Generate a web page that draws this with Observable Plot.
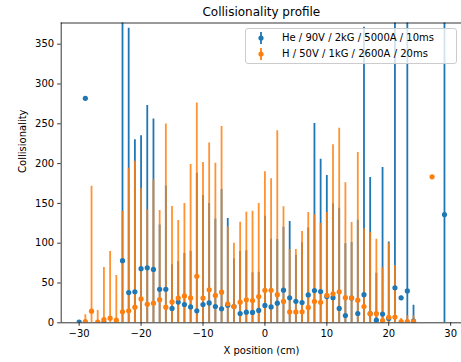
<!DOCTYPE html>
<html><head><meta charset="utf-8">
<script src="https://cdn.jsdelivr.net/npm/d3@7"></script>
<script src="https://cdn.jsdelivr.net/npm/@observablehq/plot@0.6"></script>
<style>
body{margin:0;background:#fff;}
#wrap{position:relative;width:461px;height:362px;overflow:hidden;font-family:"DejaVu Sans",sans-serif;}
#legend{position:absolute;left:245px;top:28px;width:212px;height:36px;border:1px solid #cccccc;border-radius:3px;background:rgba(255,255,255,0.8);box-sizing:border-box;font-size:10px;color:#000;}
.row{position:absolute;left:0;height:14px;display:flex;align-items:center;}
.row svg{margin-left:10px;}
.row span{position:absolute;left:36px;white-space:nowrap;top:0px;line-height:14px;}
</style>
</head><body>
<div id="wrap">
<div id="chart"></div>
<div id="legend">
  <div class="row" style="top:2px"><svg width="12" height="14"><line x1="5" x2="5" y1="1" y2="13" stroke="#1f77b4" stroke-width="1.8"/><circle cx="5" cy="7" r="2.6" fill="#1f77b4"/></svg><span id="l1"></span></div>
  <div class="row" style="top:18px"><svg width="12" height="14"><line x1="5" x2="5" y1="1" y2="13" stroke="#ff7f0e" stroke-width="1.8"/><circle cx="5" cy="7" r="2.6" fill="#ff7f0e"/></svg><span id="l2"></span></div>
</div>
</div>
<script>
const titleText = "Collisionality profile";
const xLabel = "X position (cm)";
const yLabel = "Collisionality";
const seriesNames = ["He / 90V / 2kG / 5000A / 10ms", "H / 50V / 1kG / 2600A / 20ms"];
const xTicks = [-30, -20, -10, 0, 10, 20, 30];
const yTicks = [0, 50, 100, 150, 200, 250, 300, 350];

// He series
const heX = [-30, -29, -26, -23, -22, -21, -20, -19, -18, -17, -16, -15, -14, -13, -12, -11, -10, -9, -8, -7, -6, -5, -4, -3, -2, -1, 0, 1, 2, 3, 4, 5, 6, 7, 8, 9, 10, 11, 12, 13, 14, 15, 16, 17, 18, 19, 20, 21, 22, 23, 24, 29];
const heY = [1, 282, 0.5, 78, 38, 39, 68, 69, 67, 42, 42, 18, 26, 23, 20, 15, 23, 25, 20.5, 17.6, 22, 20.5, 11.7, 13.4, 13, 15.5, 21.8, 20, 24.7, 41, 31.4, 27, 25.5, 35, 40.5, 39.3, 33, 31.6, 18, 9.2, 31, 11.7, 35.3, 11.5, 3.3, 11, 5.5, 44, 31.4, 40, 2, 136];
const heErr = [0, 0, 0, 350, 332, 191, 167, 204, 189, 81, 130, 55, 51, 64, 70, 173, 137, 125, 110, 150, 109, 60, 78, 77, 50, 48, 112, 85, 80, 79, 96, 58, 75, 84, 210, 166, 152, 118, 126, 90, 70, 117, 336, 171, 59, 184, 96, 400, 2, 400, 20, 400];

// H series
const hX = [-29, -28, -27, -26, -25, -24, -23, -22, -21, -20, -19, -18, -17, -16, -15, -14, -13, -12, -11, -10, -9, -8, -7, -6, -5, -4, -3, -2, -1, 0, 1, 2, 3, 4, 5, 6, 7, 8, 9, 10, 11, 12, 13, 14, 15, 16, 17, 18, 19, 20, 21, 22, 23, 24, 27];
const hY = [1.5, 14.6, 1, 4.1, 5.8, 3.3, 13.8, 15, 19.6, 30, 23.4, 24.6, 29, 19.6, 26.2, 31, 33.7, 31.3, 58.4, 31, 41.4, 34.4, 38.5, 23.8, 20.5, 25.9, 28.8, 28, 33, 40.8, 40.8, 35.3, 26.8, 13.6, 13.6, 13.8, 19.3, 26.8, 25.7, 34.5, 36.4, 39, 31.5, 31.3, 28.4, 20.5, 11.5, 11.5, 2.7, 7, 7.3, 1.5, 1.5, 1.5, 183.4];
const hErr = [8.5, 157, 14.5, 65.4, 83.7, 56.2, 126, 179, 183.4, 139, 118.6, 155, 112, 230, 120, 97.5, 116.3, 167.7, 217.6, 170.5, 184.6, 166, 208, 97, 79.5, 100.5, 110, 112, 117, 149, 140, 206, 119, 78.4, 78.4, 101, 119.3, 109, 99, 104, 187.4, 205.5, 144.3, 94.7, 185.6, 97.5, 102, 93.5, 66.3, 93, 64.7, 4, 7.5, 7.5, 0];

const blue = "#1f77b4", orange = "#ff7f0e";
const he = heX.map((x, i) => ({x, y: heY[i], lo: Math.max(0, heY[i] - heErr[i]), hi: heY[i] + heErr[i]}));
const hh = hX.map((x, i) => ({x, y: hY[i], lo: Math.max(0, hY[i] - hErr[i]), hi: hY[i] + hErr[i]}));
const xMin = -32.9, xMax = 31.75, yMax = 376.6;

document.getElementById("l1").textContent = seriesNames[0];
document.getElementById("l2").textContent = seriesNames[1];

const chart = Plot.plot({
  width: 461,
  height: 362,
  marginLeft: 60.7,
  marginRight: 0,
  marginTop: 22.5,
  marginBottom: 39.7,
  style: {fontFamily: "DejaVu Sans", fontSize: "10px", color: "#000", background: "#fff", overflow: "visible"},
  x: {domain: [xMin, xMax]},
  y: {domain: [0, yMax]},
  marks: [
    Plot.ruleX(he, {x: "x", y1: "lo", y2: "hi", stroke: blue, strokeWidth: 1.8, clip: true}),
    Plot.ruleX(hh, {x: "x", y1: "lo", y2: "hi", stroke: orange, strokeWidth: 1.8, strokeOpacity: 0.85, clip: true}),
    Plot.dot(he, {x: "x", y: "y", r: 2.6, fill: blue, stroke: "none", clip: true}),
    Plot.dot(hh, {x: "x", y: "y", r: 2.6, fill: orange, stroke: "none", clip: true}),
    Plot.axisX({ticks: xTicks, tickSize: 3.5, tickPadding: 3.5, label: null, stroke: "#000", strokeOpacity: 1, strokeWidth: 0.8, fill: "#000"}),
    Plot.axisY({ticks: yTicks, tickSize: 3.5, tickPadding: 3.5, label: null, stroke: "#000", strokeOpacity: 1, strokeWidth: 0.8, fill: "#000"}),
    Plot.ruleY([yMax], {stroke: "#000", strokeWidth: 0.8}),
    Plot.ruleY([0], {stroke: "#000", strokeWidth: 0.8}),
    Plot.ruleX([xMin], {stroke: "#000", strokeWidth: 0.8}),
    Plot.text([titleText], {frameAnchor: "top", dy: -10.5, lineAnchor: "middle", fontSize: 12, fill: "#000"}),
    Plot.text([xLabel], {frameAnchor: "bottom", dy: 28, lineAnchor: "middle", fontSize: 10, fill: "#000"}),
    Plot.text([yLabel], {frameAnchor: "left", dx: -38.5, rotate: -90, lineAnchor: "middle", fontSize: 10, fill: "#000"})
  ]
});
document.getElementById("chart").appendChild(chart);
</script>
</body></html>
